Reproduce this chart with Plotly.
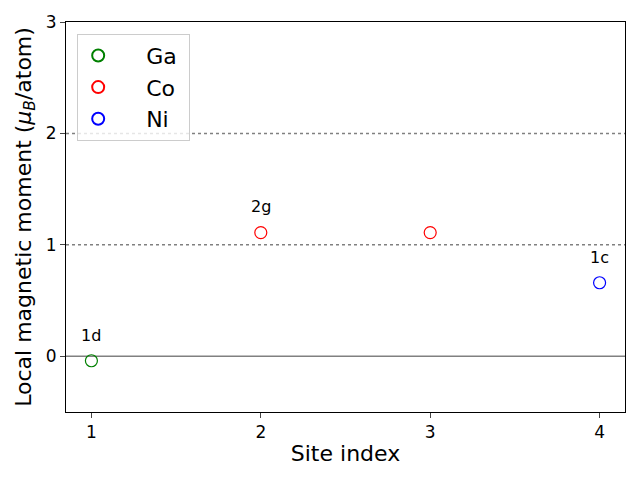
import plotly.graph_objects as go

elements = ["Ga", "Co", "Ni"]
colors = ["green", "red", "blue"]
site_index = [[1], [2, 3], [4]]
moments = [[-0.04], [1.11, 1.11], [0.66]]
site_labels = [["1d"], ["2g", ""], ["1c"]]
label_offset = 0.23
ref_solid = [0]
ref_dotted = [1, 2]
x_ticks = [1, 2, 3, 4]
y_ticks = [0, 1, 2, 3]

NB = "\u00a0"

fig = go.Figure()
for el, col, xs, ys in zip(elements, colors, site_index, moments):
    fig.add_trace(go.Scatter(
        x=xs, y=ys, mode="markers", name=NB * 4 + el + NB,
        marker=dict(symbol="circle-open", size=12, color=col, line=dict(width=1.2, color=col)),
    ))

for y in ref_solid:
    fig.add_hline(y=y, line=dict(color="gray", width=1.5), layer="below")
for y in ref_dotted:
    fig.add_hline(y=y, line=dict(color="gray", width=1.5, dash="dot"), layer="below")

for xs, ys, labs in zip(site_index, moments, site_labels):
    for x, y, lab in zip(xs, ys, labs):
        if lab:
            fig.add_annotation(x=x, y=y + label_offset, text=lab, showarrow=False,
                               font=dict(size=16, color="black"))

fig.update_layout(
    width=632, height=472,
    margin=dict(l=58, r=15, t=14, b=68),
    plot_bgcolor="white", paper_bgcolor="white",
    font=dict(family="DejaVu Sans", color="black"),
    showlegend=True,
    legend=dict(x=0.02, y=0.97, xanchor="left", yanchor="top",
                bgcolor="rgba(255,255,255,0.8)", bordercolor="#cccccc", borderwidth=1,
                font=dict(size=22), itemsizing="constant", tracegroupgap=0),
    xaxis=dict(range=[0.85, 4.15], tickvals=x_ticks, ticks="outside", ticklen=5,
               showline=True, linecolor="black", linewidth=1, mirror=True,
               showgrid=False, zeroline=False, tickfont=dict(size=17), automargin=False,
               title=dict(text="Site index", font=dict(size=22), standoff=4)),
    yaxis=dict(range=[-0.5, 3], tickvals=y_ticks, ticks="outside", ticklen=5,
               showline=True, linecolor="black", linewidth=1, mirror=True,
               showgrid=False, zeroline=False, tickfont=dict(size=17), automargin=False,
               title=dict(text="Local magnetic moment (<i>μ</i><sub><i>B</i></sub>/atom)",
                          font=dict(size=22), standoff=8)),
)

fig.write_html("out.html")
